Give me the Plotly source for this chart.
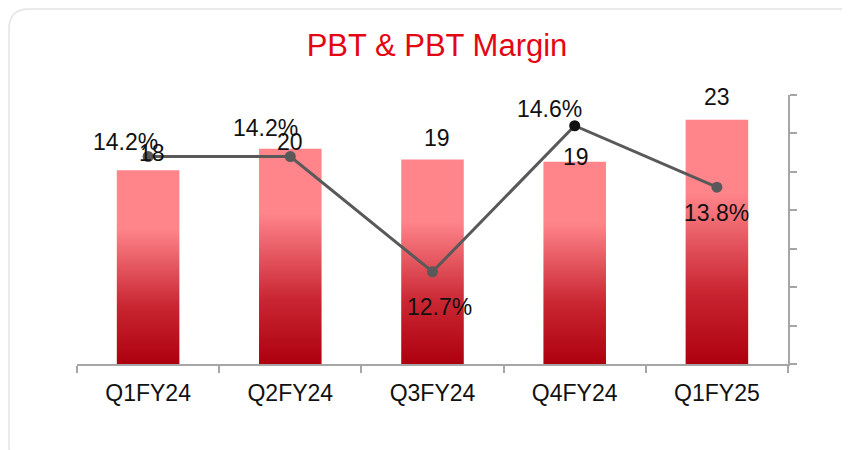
import plotly.graph_objects as go

# data
quarters = ['Q1FY24', 'Q2FY24', 'Q3FY24', 'Q4FY24', 'Q1FY25']
pbt = [18.0, 20.0, 19.0, 18.8, 22.7]
pbt_margin = [14.2, 14.2, 12.7, 14.6, 13.8]

# label nudges in px (x, y)
bar_lbl_shift = [(4, 17), (0, 7), (4, 22), (1, 5), (0, 23)]
mgn_lbl_shift = [(-23, 14), (-25, 28), (7, -35), (-25, 17), (0, -26)]

# page has an 8px body margin, so everything sits 8px left/up of the screenshot coords
W, H = 850, 450
ml, mr, mt, mb = 69, 70, 87, 94
pw, ph = W - ml - mr, H - mt - mb

bar_half = 0.22
fig = go.Figure()

# bars with vertical gradient (pink top -> dark red bottom)
for i, v in enumerate(pbt):
    fig.add_trace(go.Scatter(
        x=[i - bar_half, i - bar_half, i + bar_half, i + bar_half, i - bar_half],
        y=[0, v, v, 0, 0],
        mode='lines', line=dict(width=0), fill='toself',
        fillgradient=dict(type='vertical',
                          colorscale=[[0, '#AE000E'], [0.3, '#C92632'],
                                      [0.7, '#FF858B'], [1, '#FF858B']]),
        hoverinfo='skip', showlegend=False))

# margin line
fig.add_trace(go.Scatter(
    x=list(range(len(quarters))), y=pbt_margin, yaxis='y2',
    mode='lines+markers',
    line=dict(color='#595959', width=3),
    marker=dict(size=11, color=['#595959', '#595959', '#595959', '#111111', '#595959']),
    showlegend=False))

lbl_font = dict(family='Liberation Sans, Arial', size=23, color='#111111')
for i, v in enumerate(pbt):
    fig.add_annotation(x=i, y=v, xref='x', yref='y', text=f'{v:.0f}',
                       showarrow=False, font=lbl_font,
                       xshift=bar_lbl_shift[i][0], yshift=bar_lbl_shift[i][1])
for i, v in enumerate(pbt_margin):
    fig.add_annotation(x=i, y=v, xref='x', yref='y2', text=f'{v:.1f}%',
                       showarrow=False, font=lbl_font,
                       xshift=mgn_lbl_shift[i][0], yshift=mgn_lbl_shift[i][1])


# rounded frame around the card
def px2paper(px, py):
    return (px - ml) / pw, (H - mb - py) / ph


def rounded_rect(x0, y0, x1, y1, r):
    pts = [('M', [(x0 + r, y0)]), ('L', [(x1 - r, y0)]), ('Q', [(x1, y0), (x1, y0 + r)]),
           ('L', [(x1, y1 - r)]), ('Q', [(x1, y1), (x1 - r, y1)]),
           ('L', [(x0 + r, y1)]), ('Q', [(x0, y1), (x0, y1 - r)]),
           ('L', [(x0, y0 + r)]), ('Q', [(x0, y0), (x0 + r, y0)])]
    s = ''
    for cmd, ps in pts:
        s += cmd + ' ' + ' '.join('%.5f,%.5f' % px2paper(a, b) for a, b in ps) + ' '
    return s + 'Z'


fig.add_shape(type='path', xref='paper', yref='paper',
              path=rounded_rect(1, 1, 860, 460, 20),
              line=dict(color='#E3E3E3', width=1.5), layer='below')

fig.update_layout(
    width=W, height=H,
    margin=dict(l=ml, r=mr, t=mt, b=mb),
    paper_bgcolor='white', plot_bgcolor='white',
    font=dict(family='Liberation Sans, Arial', color='#111111'),
    title=dict(text='PBT & PBT Margin', x=429 / W, xanchor='center',
               y=1 - 37 / H, yanchor='middle',
               font=dict(family='Liberation Sans, Arial', size=31, color='#E30613')),
    xaxis=dict(range=[-0.5, 4.5], tickvals=list(range(len(quarters))), ticktext=quarters,
               ticks='', showgrid=False, zeroline=False,
               showline=True, linecolor='#A6A6A6', linewidth=1.5,
               tickfont=dict(size=23, color='#111111'), ticklabelstandoff=8,
               minor=dict(tickvals=[k - 0.5 for k in range(len(quarters) + 1)],
                          ticks='outside', ticklen=7, tickcolor='#A6A6A6', tickwidth=1.5,
                          showgrid=False)),
    yaxis=dict(range=[0, 25], visible=False, showgrid=False),
    yaxis2=dict(range=[11.5, 15.0], dtick=0.5, overlaying='y', side='right',
                showticklabels=False, ticks='outside', ticklen=7,
                tickcolor='#A6A6A6', tickwidth=1.5,
                showline=True, linecolor='#A6A6A6', linewidth=1.5,
                showgrid=False, zeroline=False),
)

fig.write_html('out.html')
